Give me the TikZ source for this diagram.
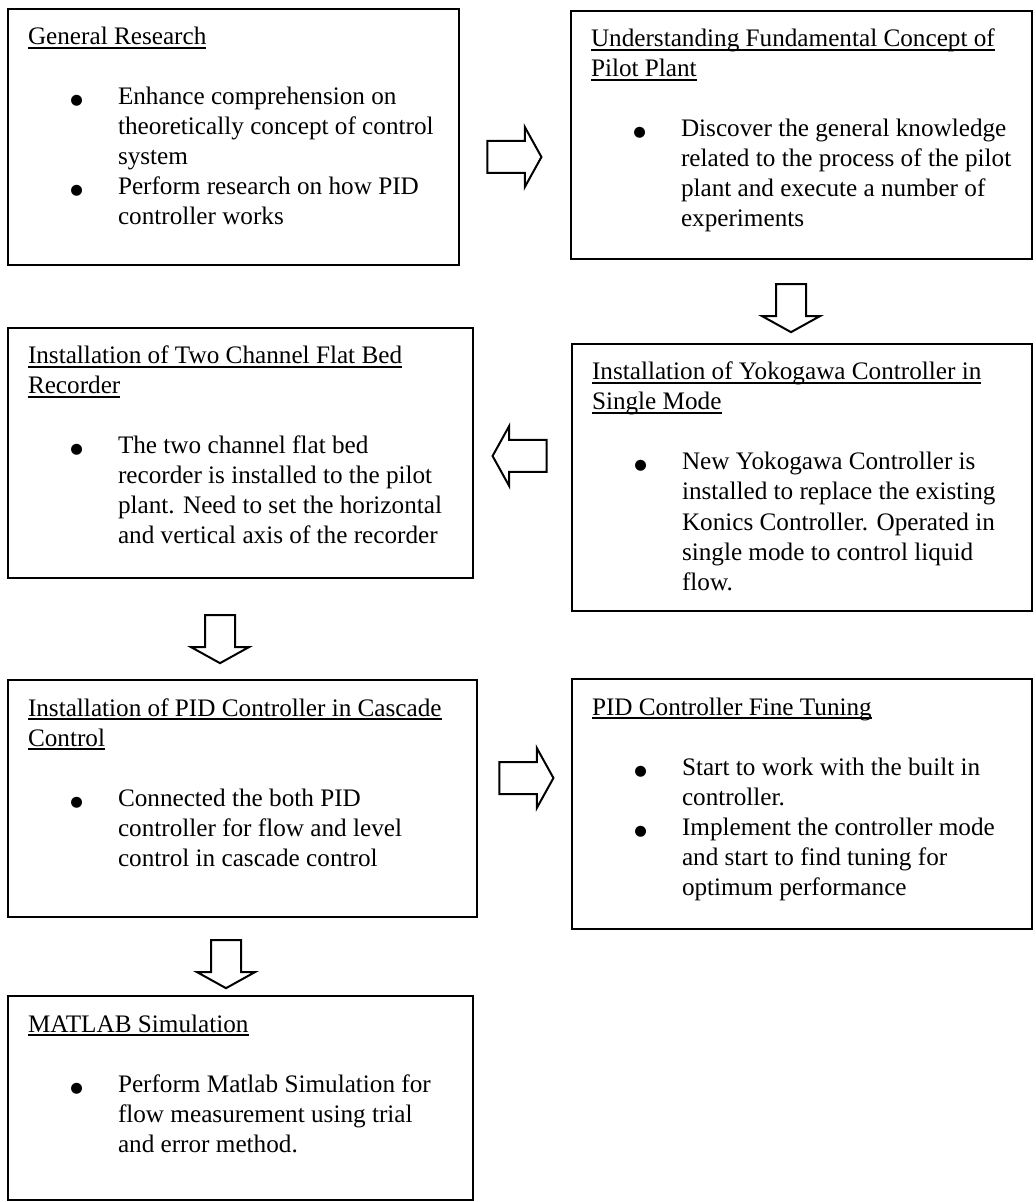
\documentclass[tikz,border=0pt]{standalone}
\usepackage{fontspec}
\setmainfont{Liberation Serif}
\newfontfamily\dotfont{DejaVu Sans}
\usepackage{tikz}
\usetikzlibrary{shapes.arrows}

\newlength{\headwd}
\newcommand{\headline}[1]{\leavevmode\settowidth{\headwd}{#1}\rlap{\rule[-2pt]{\headwd}{0.8pt}}#1}
\newcommand{\stagebox}[3]{\parbox[t][#2][t]{#1}{\raggedright\leftskip=10pt\strut#3}}
\newcommand{\point}[1]{\par\hangindent=45pt\hangafter=0\noindent\llap{{\dotfont\fontsize{7.2}{8}\selectfont ●}\hspace{17.5pt}}#1}

\begin{document}
\begin{tikzpicture}[
    x=0.5pt, y=-0.5pt,
    stage/.style={draw, line width=1pt, anchor=north west, inner xsep=0pt, inner ysep=7.5pt, font=\fontsize{12.6}{15}\selectfont},
    flow/.style={single arrow, draw, line width=1pt, fill=white, inner xsep=0pt, inner ysep=7.5pt, minimum height=27pt, minimum width=29pt, single arrow head extend=7pt, single arrow tip angle=122},
    flowdown/.style={flow, shape border rotate=270, inner xsep=7pt, inner ysep=0pt, minimum height=24pt, minimum width=28pt}
]
\useasboundingbox (0,0) rectangle (1035,1202);

% left column
\node[stage] (research) at (7,8) {\stagebox{225.5pt}{113pt}{\headline{General Research}\par\vspace{15pt}
    \point{Enhance comprehension on\newline theoretically concept of control\newline system}
    \point{Perform research on how PID\newline controller works}}};
\node[stage] (recorder) at (7,327) {\stagebox{232.5pt}{110pt}{\headline{Installation of Two Channel Flat Bed}\newline\headline{Recorder}\par\vspace{15pt}
    \point{The two channel flat bed\newline recorder is installed to the pilot\newline plant. Need to set the horizontal\newline and vertical axis of the recorder}}};
\node[stage] (cascade) at (7,679) {\stagebox{234.5pt}{103.5pt}{\headline{Installation of PID Controller in Cascade}\newline\headline{Control}\par\vspace{15pt}
    \point{Connected the both PID\newline controller for flow and level\newline control in cascade control}}};
\node[stage] (matlab) at (7,995) {\stagebox{232.5pt}{87pt}{\headline{MATLAB Simulation}\par\vspace{15pt}
    \point{Perform Matlab Simulation for\newline flow measurement using trial\newline and error method.}}};

% right column
\node[stage] (plant) at (570,10) {\stagebox{230.5pt}{109pt}{\headline{Understanding Fundamental Concept of}\newline\headline{Pilot Plant}\par\vspace{15pt}
    \point{Discover the general knowledge\newline related to the process of the pilot\newline plant and execute a number of\newline experiments}}};
\node[stage] (yokogawa) at (571,343) {\stagebox{230pt}{118.5pt}{\headline{Installation of Yokogawa Controller in}\newline\headline{Single Mode}\par\vspace{15pt}
    \point{New Yokogawa Controller is\newline installed to replace the existing\newline Konics Controller. Operated in\newline single mode to control liquid\newline flow.}}};
\node[stage] (tuning) at (571,678) {\stagebox{230pt}{110pt}{\headline{PID Controller Fine Tuning}\par\vspace{15pt}
    \point{Start to work with the built in\newline controller.}
    \point{Implement the controller mode\newline and start to find tuning for\newline optimum performance}}};

% block arrows
\node[flow] (toplant) at (510,157) {};
\node[flowdown] (toyokogawa) at (791,304) {};
\node[flow, shape border rotate=180] (torecorder) at (524,456) {};
\node[flowdown] (tocascade) at (220,635) {};
\node[flow] (totuning) at (522,778) {};
\node[flowdown] (tomatlab) at (226,960) {};

\end{tikzpicture}
\end{document}
